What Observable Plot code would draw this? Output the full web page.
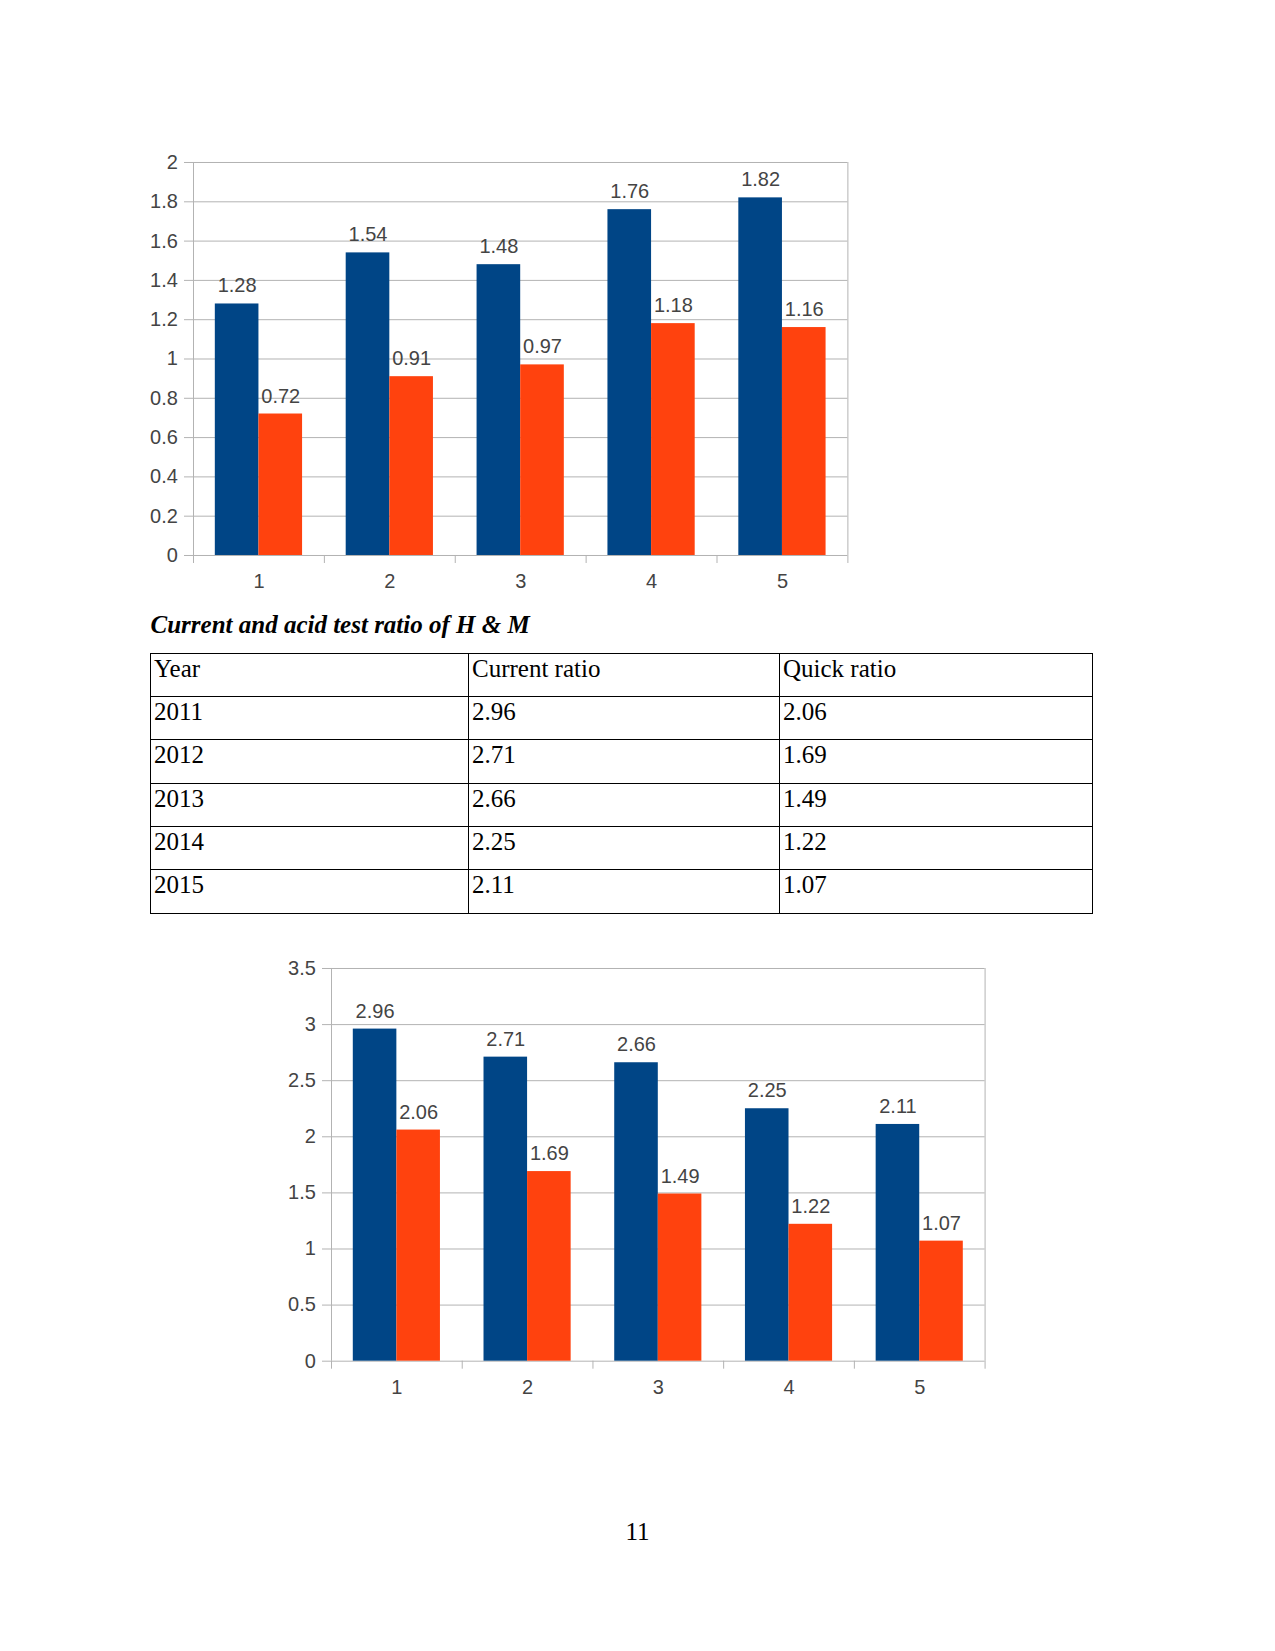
<!DOCTYPE html>
<html>
<head>
<meta charset="utf-8">
<script src="https://cdn.jsdelivr.net/npm/d3@7"></script>
<script src="https://cdn.jsdelivr.net/npm/@observablehq/plot@0.6"></script>
<style>
  html, body { margin: 0; padding: 0; background: #fff; }
  #page { position: relative; width: 1275px; height: 1651px; background: #fff; overflow: hidden; }
  .chart { position: absolute; }
  .serif { font-family: "Liberation Serif", "Times New Roman", serif; color: #000; }
  #caption { position: absolute; left: 150.5px; top: 611.8px; font-size: 25px; line-height: 25px; font-weight: bold; font-style: italic; white-space: nowrap; }
  .cell { position: absolute; box-sizing: border-box; border: 1px solid #000; font-size: 25px; line-height: 25px; padding: 2px 0 0 3px; white-space: nowrap; }
  #pagenum { position: absolute; left: 0; width: 1275px; top: 1519.1px; text-align: center; font-size: 25px; line-height: 25px; }
</style>
</head>
<body>
<div id="page">
  <div id="chart1" class="chart" style="left:133.3px; top:132.3px;"></div>
  <div id="caption" class="serif"></div>
  <div id="table" class="serif"></div>
  <div id="chart2" class="chart" style="left:270.7px; top:938.3px;"></div>
  <div id="pagenum" class="serif">11</div>
</div>
<script>
// ---------- data ----------
const categories = [1, 2, 3, 4, 5];
const chart1SeriesA = [1.28, 1.54, 1.48, 1.76, 1.82];
const chart1SeriesB = [0.72, 0.91, 0.97, 1.18, 1.16];
const chart1Ticks = [0, 0.2, 0.4, 0.6, 0.8, 1, 1.2, 1.4, 1.6, 1.8, 2];

const captionText = "Current and acid test ratio of H & M";
const tableHeader = ["Year", "Current ratio", "Quick ratio"];
const years = ["2011", "2012", "2013", "2014", "2015"];
const currentRatio = [2.96, 2.71, 2.66, 2.25, 2.11];
const quickRatio = [2.06, 1.69, 1.49, 1.22, 1.07];
const chart2Ticks = [0, 0.5, 1, 1.5, 2, 2.5, 3, 3.5];

const seriesColors = ["#004586", "#ff420e"];

// ---------- chart builder ----------
function barChart(seriesA, seriesB, yTicks, plotWidth, plotHeight) {
  const rows = categories.flatMap((c, i) => [
    {cat: c, s: 0, value: seriesA[i]},
    {cat: c, s: 1, value: seriesB[i]}
  ]);
  const boundaries = [0.5].concat(categories.map(c => c + 0.5));
  const yMax = yTicks[yTicks.length - 1];
  const grid = "#b3b3b3";
  const ink = "#444";
  const mT = 30, mB = 50, mL = 60, mR = 20;
  return Plot.plot({
    width: mL + plotWidth + mR,
    height: mT + plotHeight + mB,
    marginLeft: mL, marginRight: mR, marginTop: mT, marginBottom: mB,
    x: {type: "linear", domain: [0.5, categories.length + 0.5]},
    y: {type: "linear", domain: [0, yMax]},
    style: {fontFamily: "'Liberation Sans', Arial, sans-serif", fontSize: "20px", background: "#fff", overflow: "visible"},
    marks: [
      Plot.ruleY(yTicks, {stroke: grid, strokeWidth: 1}),
      Plot.ruleX(boundaries.filter((b, i) => i === 0 || i === boundaries.length - 1), {y1: 0, y2: yMax, stroke: grid}),
      Plot.rectY(rows, {
        x1: d => d.cat - 1/3 + d.s / 3,
        x2: d => d.cat + d.s / 3,
        y1: 0, y2: "value",
        fill: d => seriesColors[d.s],
        inset: 0
      }),
      Plot.text(rows, {
        x: d => d.cat - 1/6 + d.s / 3,
        y: "value",
        text: d => d.value.toFixed(2),
        lineAnchor: "bottom",
        dy: -11.5,
        fill: ink,
        fontSize: 20
      }),
      Plot.axisY({ticks: yTicks, label: null, tickSize: 9, tickPadding: 6.6, tickFormat: d => String(d), stroke: grid, fill: ink, fontSize: 20}),
      Plot.axisX({ticks: boundaries, label: null, tickSize: 8, tickFormat: () => "", stroke: grid}),
      Plot.axisX({ticks: categories, label: null, tickSize: 0, tickPadding: 18.5, tickFormat: d => String(d), fill: ink, fontSize: 20})
    ]
  });
}

document.getElementById("chart1").append(barChart(chart1SeriesA, chart1SeriesB, chart1Ticks, 654.4, 393));
document.getElementById("chart2").append(barChart(currentRatio, quickRatio, chart2Ticks, 653.6, 392.7));

// ---------- caption ----------
document.getElementById("caption").textContent = captionText;

// ---------- table ----------
const colX = [150, 468, 779, 1092];
const rowY = [653, 696, 739, 783, 826, 869, 913];
const tableRows = [tableHeader].concat(years.map((y, i) => [y, currentRatio[i].toFixed(2), quickRatio[i].toFixed(2)]));
const tbl = document.getElementById("table");
tableRows.forEach((row, r) => {
  row.forEach((txt, c) => {
    const d = document.createElement("div");
    d.className = "cell";
    d.style.left = colX[c] + "px";
    d.style.top = rowY[r] + "px";
    d.style.width = (colX[c + 1] - colX[c] + 1) + "px";
    d.style.height = (rowY[r + 1] - rowY[r] + 1) + "px";
    d.textContent = txt;
    tbl.append(d);
  });
});
</script>
</body>
</html>
